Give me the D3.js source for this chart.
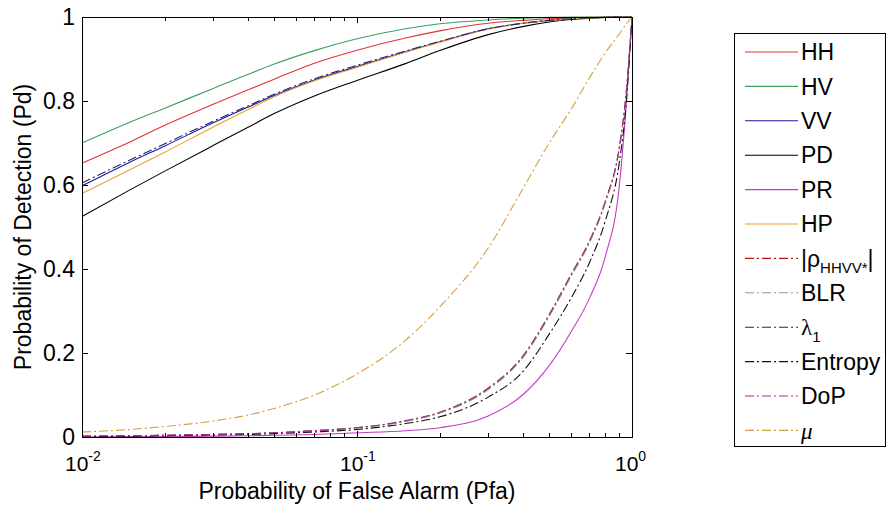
<!DOCTYPE html>
<html><head><meta charset="utf-8">
<script src="https://cdn.jsdelivr.net/npm/d3@7"></script>
<style>
body{margin:0;background:#fff;}
text{font-family:"Liberation Sans",Arial,Helvetica,sans-serif;fill:#000;}
</style>
</head><body>
<svg id="chart" width="889" height="506"></svg>
<script>
// ---------- data ----------
const pfa      = [0.01, 0.015, 0.02, 0.03, 0.04, 0.05, 0.07, 0.1, 0.15, 0.2, 0.3, 0.4, 0.5, 0.6, 0.7, 0.8, 0.9, 0.95, 1.0];
const HH       = [0.652,0.703,0.742,0.792,0.826,0.852,0.890,0.921,0.950,0.967,0.985,0.992,0.996,0.998,0.999,1,1,1,1];
const HV       = [0.700,0.750,0.783,0.830,0.863,0.888,0.920,0.948,0.972,0.984,0.993,0.997,0.999,1,1,1,1,1,1];
const VV       = [0.598,0.655,0.693,0.748,0.785,0.813,0.850,0.882,0.917,0.941,0.972,0.985,0.992,0.996,0.998,0.999,1,1,1];
const PD       = [0.525,0.589,0.633,0.694,0.737,0.770,0.812,0.849,0.889,0.920,0.958,0.977,0.988,0.994,0.997,0.999,1,1,1];
const PR       = [0.000,0.001,0.001,0.002,0.003,0.004,0.006,0.010,0.015,0.022,0.050,0.100,0.170,0.250,0.330,0.430,0.600,0.780,1];
const HP       = [0.580,0.637,0.678,0.738,0.779,0.810,0.848,0.880,0.916,0.940,0.971,0.985,0.992,0.996,0.998,0.999,1,1,1];
const RHO      = [0.002,0.003,0.004,0.006,0.008,0.010,0.015,0.022,0.038,0.058,0.115,0.190,0.290,0.385,0.465,0.560,0.690,0.810,1];
const BLR      = [0.002,0.003,0.004,0.006,0.008,0.010,0.015,0.022,0.037,0.057,0.113,0.188,0.287,0.382,0.462,0.558,0.688,0.810,1];
const LAMBDA1  = [0.605,0.660,0.698,0.752,0.788,0.816,0.853,0.885,0.919,0.942,0.972,0.985,0.992,0.996,0.998,0.999,1,1,1];
const ENTROPY  = [0.001,0.002,0.003,0.005,0.006,0.008,0.012,0.018,0.032,0.048,0.095,0.155,0.245,0.330,0.415,0.515,0.655,0.785,1];
const DOP      = [0.002,0.003,0.004,0.006,0.008,0.010,0.015,0.022,0.039,0.059,0.117,0.192,0.292,0.387,0.467,0.562,0.692,0.812,1];
const MU       = [0.012,0.018,0.025,0.038,0.052,0.068,0.100,0.150,0.230,0.310,0.450,0.590,0.700,0.780,0.855,0.915,0.960,0.982,1];

const seriesNames  = ["HH","HV","VV","PD","PR","HP","rho","BLR","lambda1","Entropy","DoP","mu"];
const seriesValues = [HH, HV, VV, PD, PR, HP, RHO, BLR, LAMBDA1, ENTROPY, DOP, MU];
const seriesColors = ["#e03535","#3aa05a","#1a1a9a","#000000","#c23cc2","#e8a030","#b01818","#86a486","#24246e","#111111","#a02c8c","#d4a040"];
const seriesDashed = [false,false,false,false,false,false,true,true,true,true,true,true];

const yTicks      = [0, 0.2, 0.4, 0.6, 0.8, 1];
const yTickLabels = ["0","0.2","0.4","0.6","0.8","1"];
const xTicks      = [0.01, 0.1, 1];
const xTickExps   = ["-2","-1","0"];
const xMinorTicks = [0.02,0.03,0.04,0.05,0.06,0.07,0.08,0.09,0.2,0.3,0.4,0.5,0.6,0.7,0.8,0.9];
const xTitle = "Probability of False Alarm (Pfa)";
const yTitle = "Probability of Detection (Pd)";

// ---------- layout ----------
const svg = d3.select("#chart");
const L = 82, R = 632, T = 17, B = 437;
const x = d3.scaleLog().domain([0.01, 1]).range([L, R]);
const y = d3.scaleLinear().domain([0, 1]).range([B, T]);
const FS = 23;

// curves
const line = d3.line().x(d => x(d[0])).y(d => y(d[1])).curve(d3.curveMonotoneX);
const gLines = svg.append("g");
seriesValues.forEach((vals, i) => {
  gLines.append("path")
    .attr("d", line(pfa.map((p, j) => [p, vals[j]])))
    .attr("fill", "none")
    .attr("stroke", seriesColors[i])
    .attr("stroke-width", 1.1)
    .attr("stroke-dasharray", seriesDashed[i] ? "9,3,2,3" : null);
});

// axes (ticks inward, box)
const gAx = svg.append("g").attr("shape-rendering","crispEdges");
gAx.append("g").attr("transform",`translate(0,${B})`)
  .call(d3.axisBottom(x).tickValues(xTicks).tickSizeInner(-6).tickSizeOuter(0).tickFormat(""));
gAx.append("g").attr("transform",`translate(0,${B})`)
  .call(d3.axisBottom(x).tickValues(xMinorTicks).tickSizeInner(-4).tickSizeOuter(0).tickFormat(""));
gAx.append("g").attr("transform",`translate(0,${T})`)
  .call(d3.axisTop(x).tickValues(xTicks).tickSizeInner(-6).tickSizeOuter(0).tickFormat(""));
gAx.append("g").attr("transform",`translate(0,${T})`)
  .call(d3.axisTop(x).tickValues(xMinorTicks).tickSizeInner(-4).tickSizeOuter(0).tickFormat(""));
gAx.append("g").attr("transform",`translate(${L},0)`)
  .call(d3.axisLeft(y).tickValues(yTicks).tickSizeInner(-6).tickSizeOuter(0).tickFormat(""));
gAx.append("g").attr("transform",`translate(${R},0)`)
  .call(d3.axisRight(y).tickValues(yTicks).tickSizeInner(-6).tickSizeOuter(0).tickFormat(""));
gAx.selectAll(".domain").remove();
gAx.selectAll("line").attr("stroke","#000");
gAx.append("rect").attr("x",L).attr("y",T).attr("width",R-L).attr("height",B-T)
  .attr("fill","none").attr("stroke","#000").attr("stroke-width",1);

// y tick labels
svg.append("g").selectAll("text").data(yTicks).join("text")
  .attr("x", L - 7).attr("y", d => y(d)).attr("dy","0.36em")
  .attr("text-anchor","end").attr("font-size",FS)
  .text((d,i) => yTickLabels[i]);

// x tick labels with superscript
const xl = svg.append("g").selectAll("text").data(xTicks).join("text")
  .attr("x", d => x(d) - 17).attr("y", 471).attr("font-size",FS-2);
xl.append("tspan").text("10");
xl.append("tspan").attr("dy",-10).attr("font-size",14).text((d,i) => xTickExps[i]);

// axis titles
svg.append("text").attr("x",(L+R)/2).attr("y",499).attr("text-anchor","middle")
  .attr("font-size",FS).text(xTitle);
svg.append("text").attr("transform",`translate(31,${(T+B)/2}) rotate(-90)`)
  .attr("text-anchor","middle").attr("font-size",FS).text(yTitle);

// legend
const lg = svg.append("g");
lg.append("rect").attr("x",734.5).attr("y",33.5).attr("width",151).attr("height",413)
  .attr("fill","#fff").attr("stroke","#000").attr("shape-rendering","crispEdges");
const ly = i => 52 + i * 34.4;
seriesNames.forEach((n, i) => {
  lg.append("line").attr("x1",745).attr("x2",798).attr("y1",ly(i)).attr("y2",ly(i))
    .attr("stroke",seriesColors[i]).attr("stroke-width",1.1)
    .attr("stroke-dasharray", seriesDashed[i] ? "9,3,2,3" : null);
  const t = lg.append("text").attr("x",801).attr("y",ly(i)).attr("dy","0.36em").attr("font-size",FS);
  if (n === "rho") {
    t.append("tspan").text("|ρ");
    t.append("tspan").attr("dy",6).attr("font-size",15).text("HHVV*");
    t.append("tspan").attr("dy",-6).text("|");
  } else if (n === "lambda1") {
    t.append("tspan").attr("font-family","Liberation Serif").text("λ");
    t.append("tspan").attr("dy",7).attr("font-size",15).text("1");
  } else if (n === "mu") {
    t.append("tspan").attr("font-family","Liberation Serif").attr("font-style","italic").text("μ");
  } else {
    t.text(n);
  }
});
</script>
</body></html>
